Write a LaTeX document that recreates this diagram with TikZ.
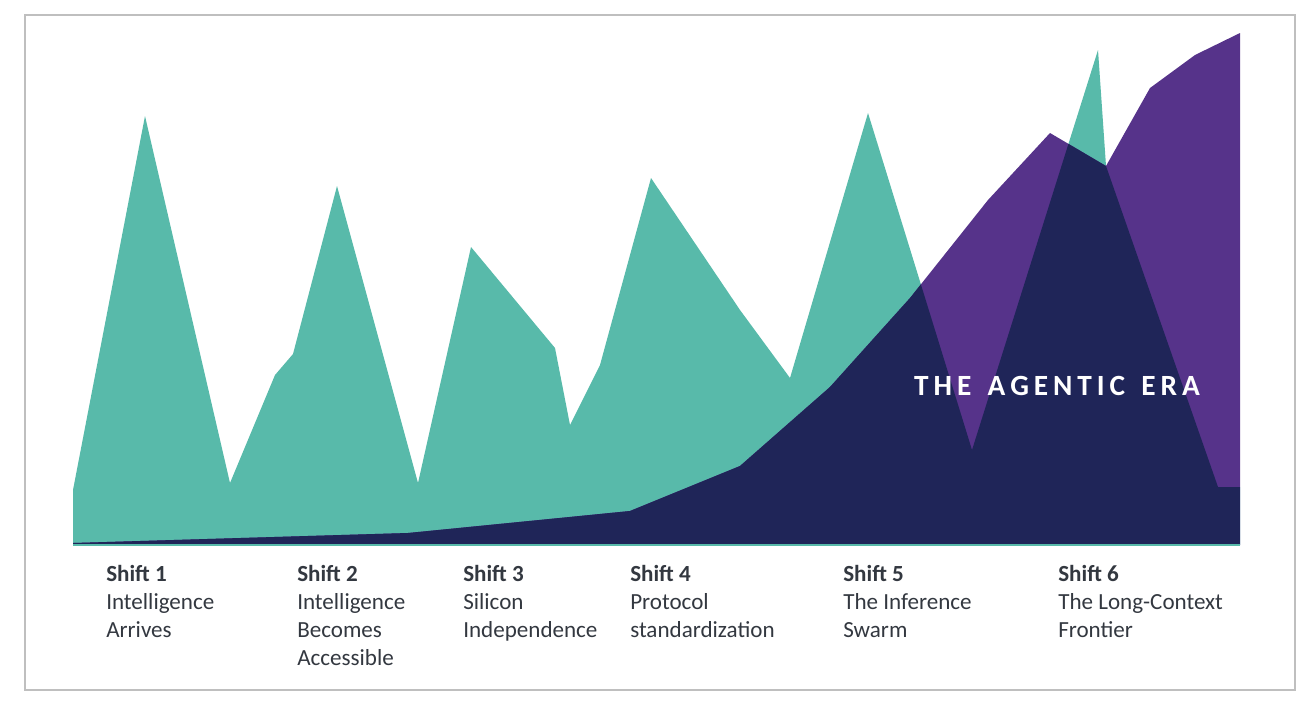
\documentclass[tikz,border=0pt]{standalone}
\usepackage{fontspec}
\setmainfont{Carlito}
\definecolor{teal1}{HTML}{58BAAA}
\definecolor{purp}{HTML}{56338A}
\definecolor{navy}{HTML}{1F2558}
\definecolor{txt}{HTML}{333840}
\begin{document}
\begin{tikzpicture}[x=0.75pt,y=-0.75pt,
  lbl/.style={anchor=north west,align=left,text=txt,font=\fontsize{17.3}{21}\selectfont,inner sep=0pt}]
\useasboundingbox (0,0) rectangle (1312,708);
\draw[gray!50,line width=0.8pt] (25,15) rectangle (1295,690);
\def\tealpath{(73,545) -- (73,490) -- (145,116) -- (230,483) -- (275,375) -- (293,354) -- (337,186) -- (418,483) -- (471,247) -- (555,348) -- (570,425) -- (600,365) -- (651,178) -- (740,310) -- (790,378) -- (868,113) -- (972,450) -- (1098,50) -- (1106,166) -- (1218,487) -- (1240,487) -- (1240,545) -- cycle}
\def\purppath{(73,545) -- (73,543) -- (408,533) -- (630,511) -- (740,466) -- (830,387) -- (910,298) -- (988,200) -- (1050,133) -- (1106,166) -- (1150,88) -- (1195,55) -- (1240,33) -- (1240,545) -- cycle}
\fill[teal1] \tealpath;
\fill[purp] \purppath;
\begin{scope}
\clip \tealpath;
\fill[navy] \purppath;
\end{scope}
\draw[teal1,line width=1pt] (73,545) -- (1240,545);
\node[anchor=center,text=white,font=\bfseries\fontsize{22}{26}\selectfont] (era) at (1057,386) {T\,H\,E\,\ \,A\,G\,E\,N\,T\,I\,C\,\ \,E\,R\,A};
\node[lbl] (s1) at (106,565) {\textbf{Shift 1}\\Intelligence\\Arrives};
\node[lbl] (s2) at (297,565) {\textbf{Shift 2}\\Intelligence\\Becomes\\Accessible};
\node[lbl] (s3) at (463,565) {\textbf{Shift 3}\\Silicon\\Independence};
\node[lbl] (s4) at (630,565) {\textbf{Shift 4}\\Protocol\\standardization};
\node[lbl] (s5) at (843,565) {\textbf{Shift 5}\\The Inference\\Swarm};
\node[lbl] (s6) at (1058,565) {\textbf{Shift 6}\\The Long-Context\\Frontier};
\end{tikzpicture}
\end{document}
